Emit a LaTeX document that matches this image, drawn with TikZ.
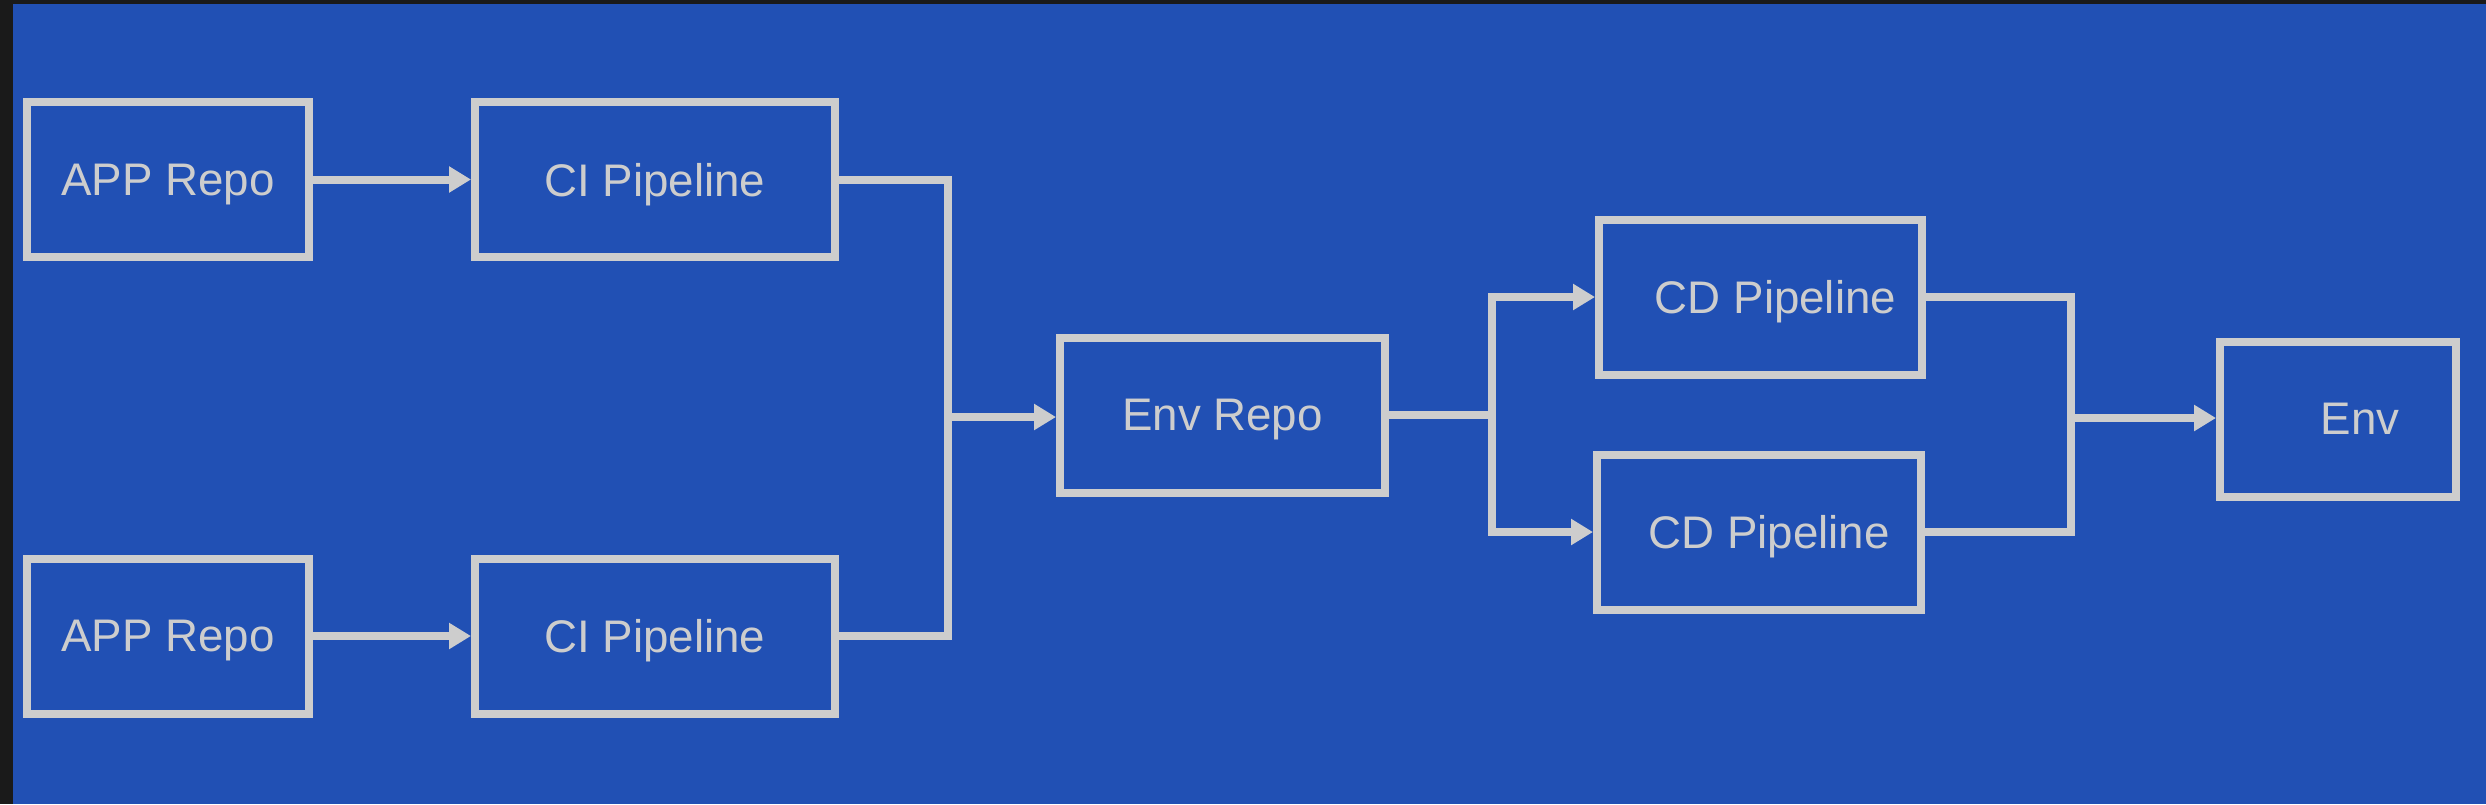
\documentclass[tikz,border=0pt]{standalone}
\usepackage{fontspec}
\setmainfont{Liberation Sans}
\usetikzlibrary{arrows.meta}
\definecolor{bgblue}{HTML}{2150B4}
\definecolor{frame}{HTML}{1A1A1A}
\definecolor{linegray}{HTML}{CDCDCD}
\begin{document}
\begin{tikzpicture}[every node/.style={font=\fontsize{13}{15}\selectfont,text=linegray},
  box/.style={draw=linegray,line width=0.08cm,minimum height=1.55cm,inner sep=0pt,text depth=0pt},
  conn/.style={draw=linegray,line width=0.08cm},
  arr/.style={conn,-{Triangle[length=0.22cm,width=0.25cm]}}]
\fill[frame] (0,0) rectangle (24.86,8.04);
\fill[bgblue] (0.13,0) rectangle (24.86,8.00);
\useasboundingbox (0,0) rectangle (24.86,8.04);
\node[box,minimum width=2.82cm] (app1) at (1.68,6.245) {APP Repo};
\node[box,minimum width=3.60cm] (ci1) at (6.55,6.245) {CI Pipeline};
\node[box,minimum width=2.82cm] (app2) at (1.68,1.68) {APP Repo};
\node[box,minimum width=3.60cm] (ci2) at (6.55,1.68) {CI Pipeline};
\node[box,minimum width=3.25cm] (envrepo) at (12.225,3.89) {Env Repo};
\node[box,minimum width=3.23cm] (cda) at (17.605,5.07) {\hspace*{0.3cm}CD Pipeline};
\node[box,minimum width=3.24cm] (cdb) at (17.59,2.72) {\hspace*{0.2cm}CD Pipeline};
\node[box,minimum width=2.36cm] (env) at (23.38,3.85) {\hspace*{0.44cm}Env};
\coordinate (join) at (9.48,3.87);
\coordinate (split) at (14.92,3.89);
\coordinate (merge) at (20.71,3.86);
\draw[arr] (app1) -- (ci1);
\draw[arr] (app2) -- (ci2);
\draw[conn] (ci1.east) -| (join);
\draw[conn] (ci2.east) -| (join);
\draw[arr] (join) -- (envrepo.west |- join);
\draw[conn] (envrepo.east) -- (split);
\draw[arr] (split) |- (cda.west);
\draw[arr] (split) |- (cdb.west);
\draw[conn] (cda.east) -| (merge);
\draw[conn] (cdb.east) -| (merge);
\draw[arr] (merge) -- (env.west |- merge);
\end{tikzpicture}
\end{document}
